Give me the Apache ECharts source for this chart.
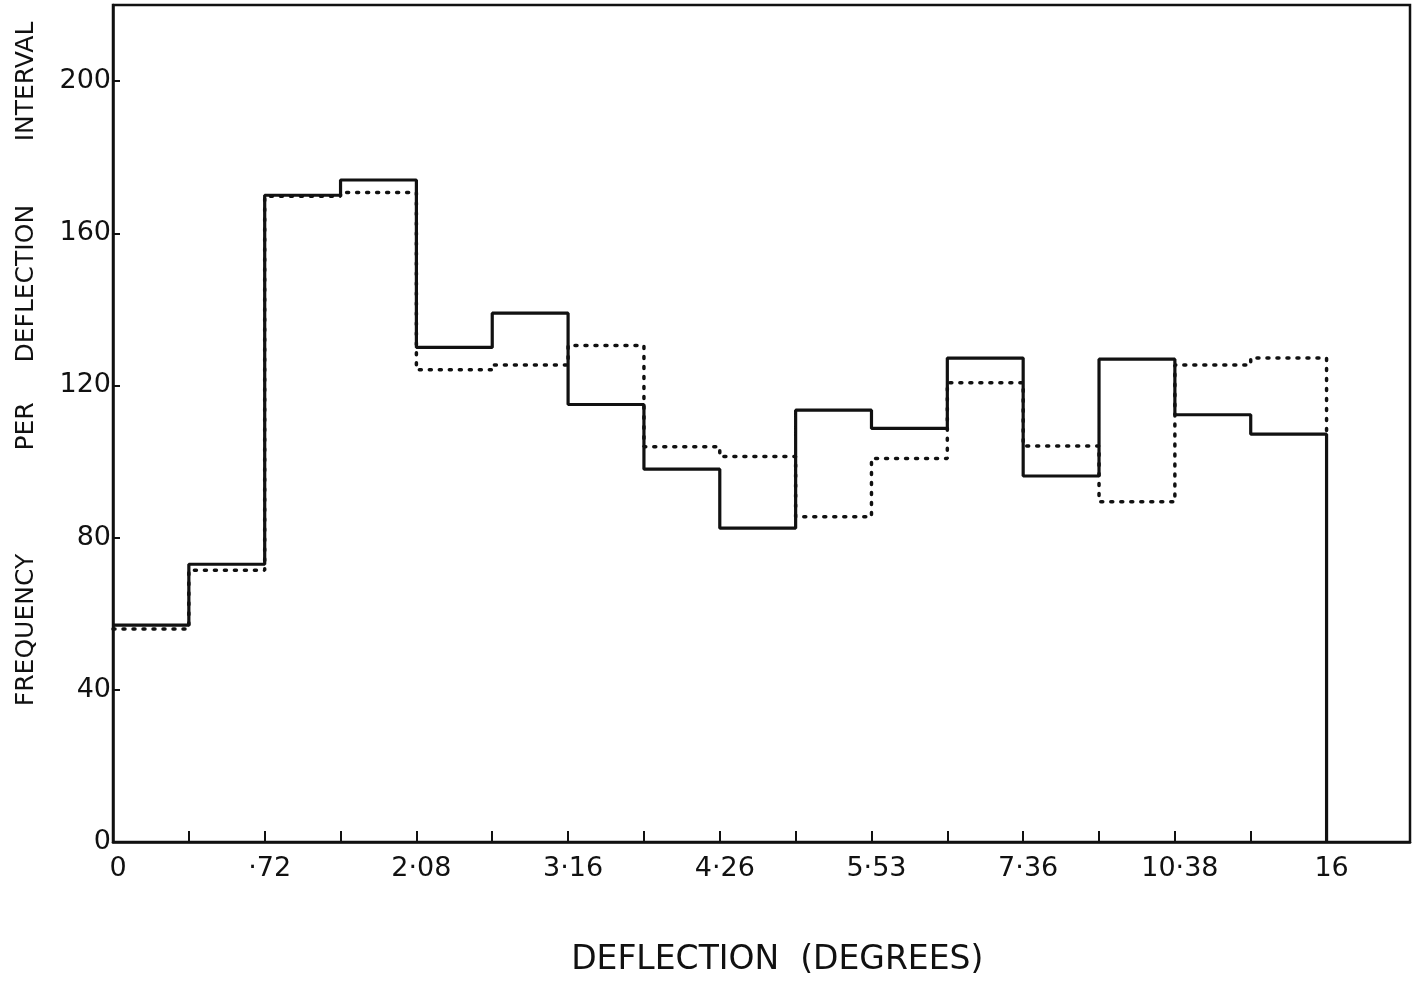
<!DOCTYPE html>
<html>
<head>
<meta charset="utf-8">
<script src="https://cdn.jsdelivr.net/npm/echarts@6/dist/echarts.min.js"></script>
<style>
  html, body { margin: 0; padding: 0; background: #fff; }
  #chart { width: 1418px; height: 981px; }
</style>
</head>
<body>
<div id="chart"></div>
<script>
// bin edges are equally spaced on the drawing: 16 intervals, labels on every second edge
const edgeLabels = ['0', '·72', '2·08', '3·16', '4·26', '5·53', '7·36', '10·38', '16']
const solidFreq = [57, 73, 170, 174, 130, 139, 115, 98, 82.5, 113.5, 108.7, 127.2, 96.2, 126.9, 112.3, 107.2]
const dottedFreq = [56, 71.4, 169.7, 170.7, 124.1, 125.4, 130.5, 103.9, 101.3, 85.5, 100.8, 120.7, 104.1, 89.4, 125.4, 127.2]
const yTicks = [0, 40, 80, 120, 160, 200]

const nBins = solidFreq.length

// step points: each bin value placed at its left edge, closed at the right edge
function stepData(vals, endValue) {
  const pts = vals.map((v, i) => [i, v])
  pts.push([nBins, vals[nBins - 1]])
  pts.push([nBins, endValue])
  return pts
}

const chart = echarts.init(document.getElementById('chart'))

const font = 'DejaVu Sans'
const sp = (n) => ' '.repeat(n)

chart.setOption({
  animation: false,
  grid: {
    left: 113, right: 8, top: 5, bottom: 139,
    outerBoundsMode: 'none',
    show: true, borderColor: '#111', borderWidth: 2.5
  },
  xAxis: {
    type: 'value',
    min: 0, max: 17.1,
    interval: 1,
    name: sp(3) + 'DEFLECTION' + sp(2) + '(DEGREES)',
    nameLocation: 'middle',
    nameGap: 102,
    nameTextStyle: { fontFamily: font, fontSize: 33, color: '#111' },
    axisLine: { lineStyle: { color: '#111', width: 2.5 } },
    axisTick: {
      inside: true, length: 11,
      customValues: Array.from({ length: nBins + 1 }, (_, i) => i),
      lineStyle: { color: '#111', width: 2 }
    },
    axisLabel: {
      customValues: edgeLabels.map((_, i) => i * 2),
      formatter: (v) => edgeLabels[Math.round(v / 2)] ?? '',
      fontFamily: font, fontSize: 27, color: '#111', margin: 13,
      padding: [0, 0, 0, 10]
    },
    splitLine: { show: false }
  },
  yAxis: {
    type: 'value',
    min: 0, max: 220,
    interval: 40,
    // leading spaces push the rotated title up, as in the original
    name: sp(15) + 'FREQUENCY' + sp(13) + 'PER' + sp(5) + 'DEFLECTION' + sp(8) + 'INTERVAL',
    nameLocation: 'middle',
    nameGap: 74,
    nameTextStyle: { fontFamily: font, fontSize: 25, color: '#111' },
    axisLine: { lineStyle: { color: '#111', width: 2.5 } },
    axisTick: {
      inside: true, length: 7,
      customValues: yTicks,
      lineStyle: { color: '#111', width: 2 }
    },
    axisLabel: {
      customValues: yTicks,
      fontFamily: font, fontSize: 27, color: '#111', margin: 2
    },
    splitLine: { show: false }
  },
  series: [
    {
      name: 'dotted',
      type: 'line',
      step: 'end',
      symbol: 'none',
      data: stepData(dottedFreq, solidFreq[nBins - 1]),
      lineStyle: { color: '#111', width: 3.5, type: [2, 8], cap: 'round' }
    },
    {
      name: 'solid',
      type: 'line',
      step: 'end',
      symbol: 'none',
      data: stepData(solidFreq, 0),
      lineStyle: { color: '#111', width: 3.2 }
    }
  ]
})
</script>
</body>
</html>
